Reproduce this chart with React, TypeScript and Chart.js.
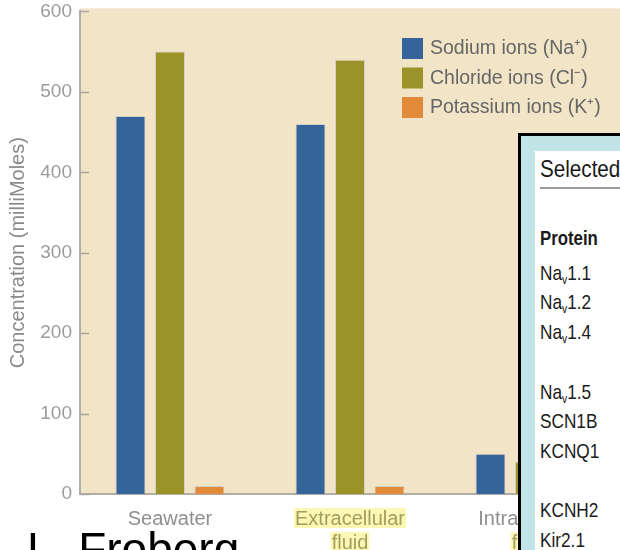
import React, { useEffect, useRef } from "react";
import { Chart, registerables } from "chart.js";

Chart.register(...registerables);

// Ion concentrations (mM) in seawater, squid blood and squid axoplasm
const categories = [["Seawater"], ["Extracellular", "fluid"], ["Intracellular", "fluid"]];
const highlightedLines = [[false], [true, true], [false, true]];
const sodium = [470, 460, 50];
const chloride = [550, 540, 40];
const potassium = [10, 10, 400];
const seriesNames = ["Sodium ions (Na⁺)", "Chloride ions (Cl⁻)", "Potassium ions (K⁺)"];
const seriesColors = ["#35649b", "#9b922a", "#e28a37"];
const yMin = 0;
const yMax = 600;
const yStep = 100;
const yTitle = "Concentration (milliMoles)";

// Side panel listing channel proteins
const panelTitle = "Selected";
const panelHeader = "Protein";
const proteins: (string[] | null)[] = [
  ["Na", "v", "1.1"],
  ["Na", "v", "1.2"],
  ["Na", "v", "1.4"],
  null,
  ["Na", "v", "1.5"],
  ["SCN1B"],
  ["KCNQ1"],
  null,
  ["KCNH2"],
  ["Kir2.1"],
];
const author = "L. Froberg";

const FONT = "'Liberation Sans', Arial, Helvetica, sans-serif";
const PLOT_BG = "#f2e4c6";
const AXIS_GRAY = "#b2aea6";

const plotBackground = {
  id: "plotBackground",
  beforeDraw(chart: any) {
    const { ctx, chartArea } = chart;
    ctx.save();
    ctx.fillStyle = PLOT_BG;
    ctx.fillRect(chartArea.left, chartArea.top - 3, chartArea.right - chartArea.left, chartArea.bottom - chartArea.top + 3);
    ctx.restore();
  },
};

const decorations = {
  id: "decorations",
  afterDraw(chart: any) {
    const { ctx, chartArea, scales } = chart;
    const y = scales.y;
    const x = scales.x;
    ctx.save();

    // inward tick marks on the value axis
    ctx.strokeStyle = "#aaa6a0";
    ctx.lineWidth = 1.5;
    for (let v = yMin; v <= yMax; v += yStep) {
      const py = Math.round(y.getPixelForValue(v)) + 0.5;
      ctx.beginPath();
      ctx.moveTo(chartArea.left, py);
      ctx.lineTo(chartArea.left + 9, py);
      ctx.stroke();
    }

    // category labels, some lines with a marker highlight
    ctx.font = `20px ${FONT}`;
    ctx.textAlign = "center";
    ctx.textBaseline = "middle";
    categories.forEach((lines, i) => {
      const px = x.getPixelForValue(i);
      lines.forEach((line, j) => {
        const cy = chartArea.bottom + 24 + j * 24;
        const hl = highlightedLines[i][j];
        if (hl) {
          const w = ctx.measureText(line).width;
          ctx.fillStyle = "#fcf7b2";
          ctx.fillRect(px - w / 2 - 1, cy - 10, w + 2, 20);
          ctx.fillStyle = "#a29d60";
        } else {
          ctx.fillStyle = "#8e8e8e";
        }
        ctx.fillText(line, px, cy + 1.5);
      });
    });

    // legend in the upper right of the plot
    ctx.textAlign = "left";
    ctx.font = `19.5px ${FONT}`;
    seriesNames.forEach((name, i) => {
      const top = 38 + i * 29.5;
      ctx.fillStyle = seriesColors[i];
      ctx.fillRect(402, top, 21, 21);
      ctx.fillStyle = "#666666";
      ctx.fillText(name, 430, top + 11);
    });

    ctx.restore();
  },
};

export default function App() {
  const ref = useRef<HTMLCanvasElement>(null);

  useEffect(() => {
    const series = [sodium, chloride, potassium];
    const chart = new Chart(ref.current as HTMLCanvasElement, {
      type: "bar",
      data: {
        labels: categories,
        datasets: series.map((data, i) => ({
          label: seriesNames[i],
          data,
          backgroundColor: seriesColors[i],
          borderColor: "rgba(190,190,200,0.55)",
          borderWidth: 1,
          barPercentage: 0.76,
          categoryPercentage: 0.658,
        })),
      },
      options: {
        responsive: false,
        animation: false,
        layout: { padding: { top: 9, left: 0, right: 0, bottom: 0 } },
        plugins: {
          legend: { display: false },
          tooltip: { enabled: false },
        },
        scales: {
          x: {
            grid: { display: false },
            border: { display: true, color: AXIS_GRAY, width: 2 },
            ticks: { display: false },
            afterFit(scale: any) {
              scale.height = 56;
            },
          },
          y: {
            min: yMin,
            max: yMax,
            grid: { display: false },
            border: { display: true, color: AXIS_GRAY, width: 2 },
            ticks: {
              stepSize: yStep,
              color: "#9c9c9c",
              padding: 0,
              font: { family: FONT, size: 19 },
            },
            title: {
              display: true,
              text: yTitle,
              color: "#8a8a8a",
              padding: { top: 6, bottom: 0 },
              font: { family: FONT, size: 20 },
            },
            afterFit(scale: any) {
              scale.width = 80;
            },
          },
        },
      },
      plugins: [plotBackground, decorations],
    });
    return () => chart.destroy();
  }, []);

  const narrow = (scale: number): React.CSSProperties => ({
    transform: `scaleX(${scale})`,
    transformOrigin: "left center",
    whiteSpace: "nowrap",
  });

  const rowBaseline = (k: number) => 280 + k * 29.7;

  return (
    <div
      style={{
        position: "fixed",
        left: 0,
        top: 0,
        width: 620,
        height: 550,
        overflow: "hidden",
        background: "#ffffff",
        fontFamily: FONT,
      }}
    >
      <canvas ref={ref} width={620} height={550} style={{ position: "absolute", left: 0, top: 0 }} />

      {/* protein panel */}
      <div
        style={{
          position: "absolute",
          left: 518,
          top: 133,
          width: 200,
          height: 500,
          border: "3px solid #000",
          background: "#c3e4e7",
        }}
      />
      <div style={{ position: "absolute", left: 535, top: 151, width: 200, height: 500, background: "#ffffff" }} />
      <div
        style={{
          position: "absolute",
          left: 540,
          top: 155,
          fontSize: 24,
          lineHeight: "28px",
          color: "#1a1a1a",
          ...narrow(0.86),
        }}
      >
        {panelTitle}
      </div>
      <div style={{ position: "absolute", left: 540, top: 187, width: 100, height: 2, background: "#9a9a9a" }} />
      <div
        style={{
          position: "absolute",
          left: 540,
          top: 245 - 19.3,
          fontSize: 21,
          lineHeight: "24px",
          fontWeight: "bold",
          color: "#1a1a1a",
          ...narrow(0.8),
        }}
      >
        {panelHeader}
      </div>
      {proteins.map((p, k) =>
        p ? (
          <div
            key={k}
            style={{
              position: "absolute",
              left: 540,
              top: rowBaseline(k) - 19.3,
              fontSize: 21,
              lineHeight: "24px",
              color: "#1a1a1a",
              ...narrow(0.82),
            }}
          >
            {p.length === 3 ? (
              <>
                {p[0]}
                <span style={{ fontSize: "0.6em", verticalAlign: "-0.3em", lineHeight: "0" }}>{p[1]}</span>
                {p[2]}
              </>
            ) : (
              p[0]
            )}
          </div>
        ) : null
      )}

      <div
        style={{
          position: "absolute",
          left: 27,
          top: 526,
          fontSize: 46,
          lineHeight: "46px",
          color: "#000",
          whiteSpace: "nowrap",
        }}
      >
        {author}
      </div>
    </div>
  );
}
